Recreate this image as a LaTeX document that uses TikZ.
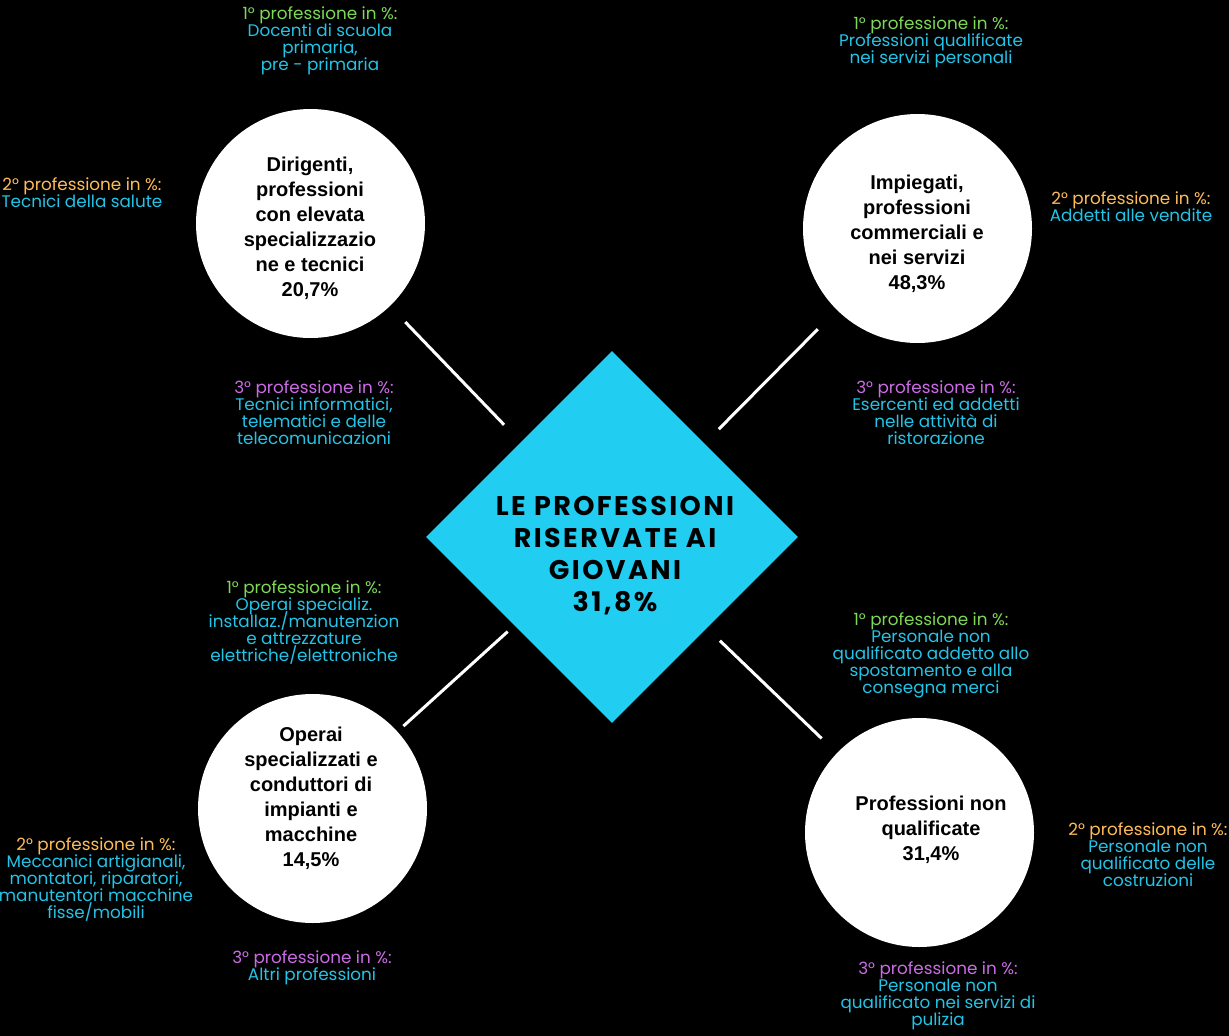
\documentclass[tikz,border=0pt]{standalone}
\usepackage{fontspec}
\usetikzlibrary{shapes.geometric}
\newfontfamily\fontetiq{Poppins}
\newfontfamily\fonterond{Liberation Sans}
\newfontfamily\fontetitre{Poppins}[LetterSpace=9]
\definecolor{cyanfond}{HTML}{22CDF2}
\definecolor{cyantexte}{HTML}{22C4E8}
\definecolor{vert}{HTML}{7ED957}
\definecolor{orange}{HTML}{FFBD59}
\definecolor{violet}{HTML}{CB6CE6}
\begin{document}
\lineskiplimit=-50pt
\begin{tikzpicture}[x=1pt,y=-1pt]
% Styles
\tikzstyle{fond}=[fill=black]
\tikzstyle{rond}=[circle,fill=white,minimum size=229pt,inner sep=0pt]
\tikzstyle{losange}=[diamond,fill=cyanfond,minimum width=372pt,minimum height=372pt,inner sep=0pt]
\tikzstyle{titre}=[align=center,font=\fontetitre\bfseries\fontsize{27}{32}\selectfont]
\tikzstyle{texterond}=[align=center,font=\fonterond\bfseries\fontsize{20}{25}\selectfont]
\tikzstyle{etiquette}=[align=center,text=cyantexte,font=\fontetiq\fontsize{16.8}{17}\selectfont]
\tikzstyle{lien}=[white,line width=3pt]
% Fond
\fill[fond] (0,0) rectangle (1229,1036);
\useasboundingbox (0,0) rectangle (1229,1036);
% Losange central
\node[losange] (centre) at (612,537) {};
\node[titre] (titre) at (615,556) {LE PROFESSIONI\\RISERVATE AI\\GIOVANI\\31,8\%};
% Cercles
\node[rond] (rDir) at (310.5,223.5) {};
\node[rond] (rImp) at (917.5,228.5) {};
\node[rond] (rOpe) at (312.5,808.5) {};
\node[rond] (rNon) at (919.5,832.5) {};
\node[texterond] (tDir) at (310,228.5) {Dirigenti,\\professioni\\con elevata\\specializzazio\\ne e tecnici\\20,7\%};
\node[texterond] (tImp) at (917,234) {Impiegati,\\professioni\\commerciali e\\nei servizi\\48,3\%};
\node[texterond] (tOpe) at (311,798) {Operai\\specializzati e\\conduttori di\\impianti e\\macchine\\14,5\%};
\node[texterond] (tNon) at (931,830) {Professioni non\\qualificate\\31,4\%};
% Liens
\draw[lien,shorten <=22pt,shorten >=24pt] (rDir) -- (centre);
\draw[lien,shorten <=27pt,shorten >=20pt] (rImp) -- (centre);
\draw[lien,shorten <=8pt,shorten >=9pt] (rOpe) -- (centre);
\draw[lien,shorten <=21pt,shorten >=18pt] (rNon) -- (centre);
% Etiquettes : Dirigenti
\node[etiquette] (dirA) at (320,41) {{\color{vert}1° professione in \%:}\\Docenti di scuola\\primaria,\\pre - primaria};
\node[etiquette] (dirB) at (82,193) {{\color{orange}2° professione in \%:}\\Tecnici della salute};
\node[etiquette] (dirC) at (314,412.5) {{\color{violet}3° professione in \%:}\\Tecnici informatici,\\telematici e delle\\telecomunicazioni};
% Etiquettes : Impiegati
\node[etiquette] (impA) at (931,42) {{\color{vert}1° professione in \%:}\\Professioni qualificate\\nei servizi personali};
\node[etiquette] (impB) at (1131,206.5) {{\color{orange}2° professione in \%:}\\Addetti alle vendite};
\node[etiquette] (impC) at (936,413) {{\color{violet}3° professione in \%:}\\Esercenti ed addetti\\nelle attività di\\ristorazione};
% Etiquettes : Operai
\node[etiquette] (opeA) at (304,623) {{\color{vert}1° professione in \%:}\\Operai specializ.\\installaz./manutenzion\\e attrezzature\\elettriche/elettroniche};
\node[etiquette] (opeB) at (96,879) {{\color{orange}2° professione in \%:}\\Meccanici artigianali,\\montatori, riparatori,\\manutentori macchine\\fisse/mobili};
\node[etiquette] (opeC) at (312,967.5) {{\color{violet}3° professione in \%:}\\Altri professioni};
% Etiquettes : Non qualificate
\node[etiquette] (nonA) at (931,655) {{\color{vert}1° professione in \%:}\\Personale non\\qualificato addetto allo\\spostamento e alla\\consegna merci};
\node[etiquette] (nonB) at (1148,854.5) {{\color{orange}2° professione in \%:}\\Personale non\\qualificato delle\\costruzioni};
\node[etiquette] (nonC) at (938,995.5) {{\color{violet}3° professione in \%:}\\Personale non\\qualificato nei servizi di\\pulizia};
\end{tikzpicture}
\end{document}
